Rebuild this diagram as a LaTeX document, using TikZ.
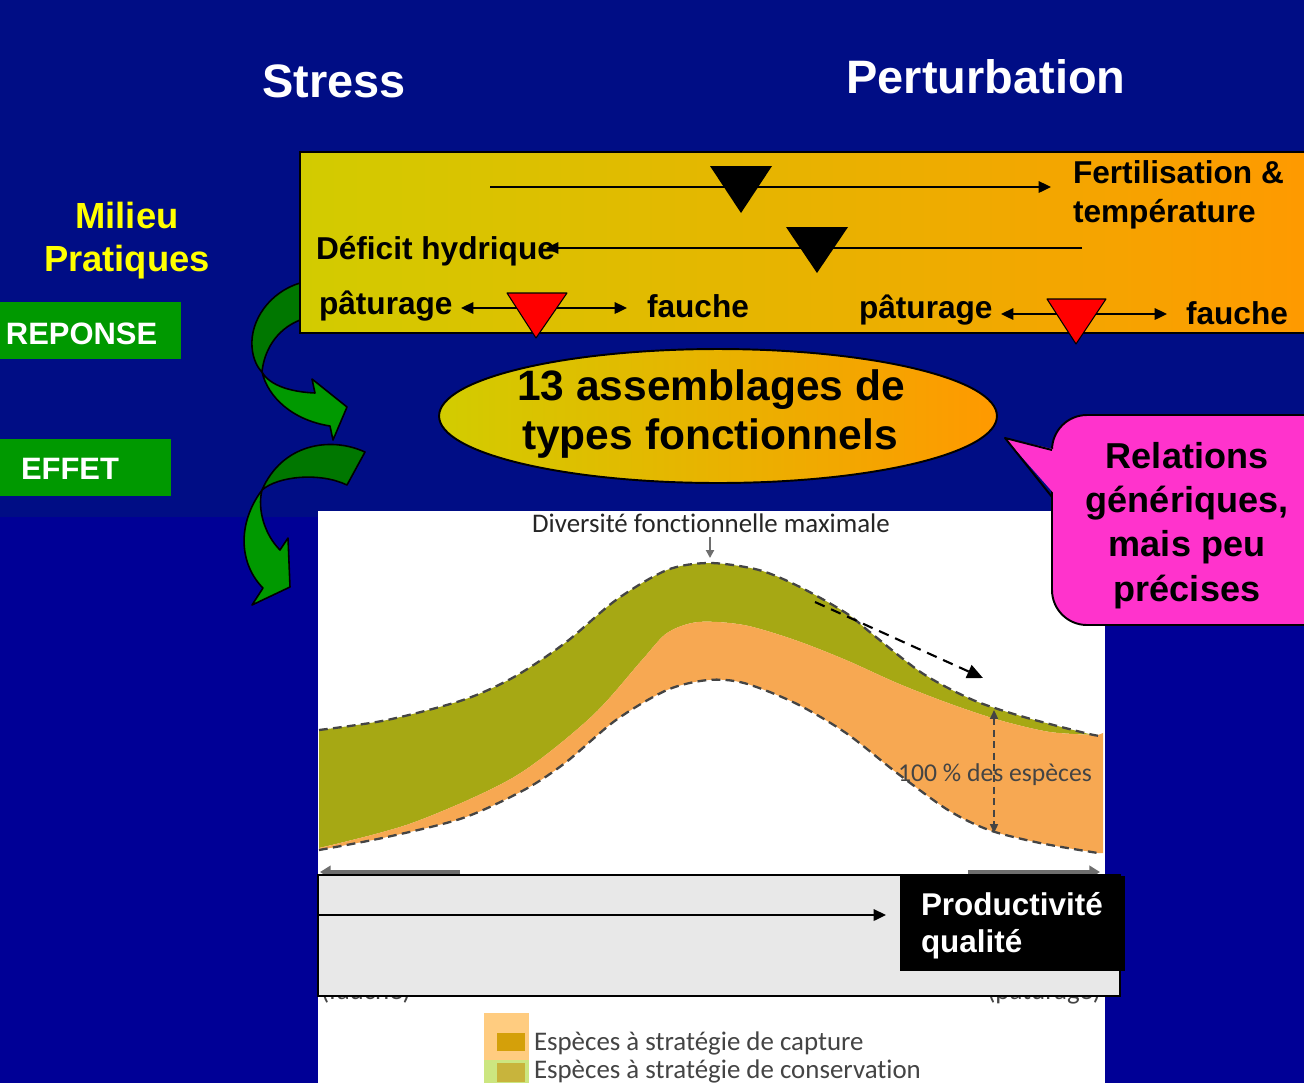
\documentclass[tikz,border=0pt]{standalone}
\usepackage{fontspec}
\setmainfont{Liberation Sans}
\newfontfamily\calfont[Ligatures={NoCommon},RawFeature={-calt}]{Carlito}
\usetikzlibrary{arrows.meta,shapes.geometric}
\definecolor{navytop}{RGB}{0,13,133}
\definecolor{navybot}{RGB}{0,0,150}
\definecolor{barL}{RGB}{210,204,0}
\definecolor{barR}{RGB}{255,153,0}
\definecolor{gr}{RGB}{0,153,0}
\definecolor{grdark}{RGB}{0,119,0}
\definecolor{yel}{RGB}{255,255,0}
\definecolor{pinkc}{RGB}{255,51,204}
\definecolor{olivec}{RGB}{166,168,20}
\definecolor{orngc}{RGB}{247,168,82}
\definecolor{dgray}{RGB}{68,68,68}
\definecolor{mgray}{RGB}{110,110,110}
\definecolor{boxgray}{RGB}{232,232,232}
\definecolor{legor}{RGB}{255,204,128}
\definecolor{leggr}{RGB}{204,230,128}
\definecolor{legsq1}{RGB}{212,160,10}
\definecolor{legsq2}{RGB}{200,180,60}
\newcommand{\fsz}[1]{\fontsize{#1}{#1}\selectfont}
\begin{document}
\begin{tikzpicture}[x=0.02cm,y=-0.02cm,
  txt/.style={inner sep=0,outer sep=0},
  titletxt/.style={txt,text=white,font=\bfseries\fsz{26.7}},
  bartxt/.style={txt,text=black,font=\bfseries\fsz{18}},
  yeltxt/.style={txt,text=yel,font=\bfseries\fsz{20.7}},
  boxtxt/.style={txt,text=white,font=\bfseries\fsz{17.6}},
  elltxt/.style={txt,text=black,font=\bfseries\fsz{24.2}},
  calltxt/.style={txt,text=black,font=\bfseries\fsz{20.5}},
  prodtxt/.style={txt,text=white,font=\bfseries\fsz{17.9}},
  charttxt/.style={txt,text=dgray,font=\calfont\fsz{14.6}},
  legtxt/.style={txt,text=dgray,font=\calfont\fsz{15.3}},
  arr/.style={line width=1.1pt,-{Triangle[length=7pt,width=6.5pt]}},
  darr/.style={line width=1.1pt,{Triangle[length=7pt,width=6.5pt]}-{Triangle[length=7pt,width=6.5pt]}},
  garrow/.style={draw=black,line width=0.9pt,line join=round},
  dashcurve/.style={dgray,line width=1.3pt,dash pattern=on 5pt off 3pt}
]
\useasboundingbox (0,0) rectangle (1304,1083);
\clip (0,0) rectangle (1304,1083);
% background
\fill[navytop] (0,0) rectangle (1304,517);
\fill[navybot] (0,517) rectangle (1304,1083);

% titles
\node[titletxt,anchor=base] (stress) at (334,97) {Stress};
\node[titletxt,anchor=base] (pert) at (986,93) {Perturbation};

% left labels
\node[yeltxt,anchor=base] (milieu) at (127,228) {Milieu};
\node[yeltxt,anchor=base] (prat) at (127,271) {Pratiques};
\fill[gr] (0,302) rectangle (181,359);
\node[boxtxt,anchor=base west] (rep) at (6,344) {REPONSE};
\fill[gr] (0,439) rectangle (171,496);
\node[boxtxt,anchor=base west] (eff) at (21,479) {EFFET};

% curved green arrows
\path[garrow,fill=grdark] (312,283) -- (300,283) .. controls (270,292) and (250,320) .. (252,347)
  .. controls (253,360) and (258,368) .. (262,372)
  .. controls (264,352) and (275,330) .. (300,320) -- (312,320) -- cycle;
\path[garrow,fill=gr] (262,372) .. controls (268,397) and (292,420) .. (330,426) -- (333,440) -- (347,407) -- (312,379) -- (315,393)
  .. controls (292,392) and (270,386) .. (262,372) -- cycle;
\path[garrow,fill=grdark] (365,452) .. controls (330,436) and (282,444) .. (262,490)
  .. controls (278,476) and (320,472) .. (347,485) -- cycle;
\path[garrow,fill=gr] (262,490) .. controls (236,525) and (240,565) .. (263,588) -- (252,605) -- (290,587) -- (288,538) -- (280,550)
  .. controls (265,535) and (257,510) .. (262,490) -- cycle;

% top bar
\shade[left color=barL,right color=barR] (300,152) rectangle (1320,333);
\draw[line width=1.1pt] (1320,152) -- (300,152) -- (300,333) -- (1320,333);
\node[bartxt,anchor=base west] (fert) at (1073,183) {Fertilisation \&};
\node[bartxt,anchor=base west] (temp) at (1073,222) {température};
\node[bartxt,anchor=base west] (defi) at (316,259) {Déficit hydrique};
\node[bartxt,anchor=base west] (pat1) at (319,314) {pâturage};
\node[bartxt,anchor=base west] (fau1) at (647,317) {fauche};
\node[bartxt,anchor=base west] (pat2) at (859,318) {pâturage};
\node[bartxt,anchor=base west] (fau2) at (1186,324) {fauche};
\coordinate (l1a) at (490,187); \coordinate (l1b) at (1051,187);
\coordinate (l2a) at (546,248); \coordinate (l2b) at (1082,248);
\coordinate (l3a) at (461,308); \coordinate (l3b) at (627,308);
\coordinate (l4a) at (1001,314); \coordinate (l4b) at (1167,314);
\draw[arr] (l1a) -- (l1b);
\draw[arr] (l2b) -- (l2a);
\draw[darr] (l3a) -- (l3b);
\draw[darr] (l4a) -- (l4b);
\fill[black] (710,166) -- (772,166) -- (741,213) -- cycle;
\fill[black] (786,227) -- (848,227) -- (817,273) -- cycle;
\draw[fill=red,line width=0.6pt,line join=round] (507,293) -- (567,293) -- (536,338) -- cycle;
\draw[fill=red,line width=0.6pt,line join=round] (1047,299) -- (1106,299) -- (1076,344) -- cycle;

% chart
\fill[white] (318,511) rectangle (1105,1083);
\fill[olivec] plot[smooth] coordinates {(319,730) (387,720) (463,700) (514,677) (565,643) (616,600) (667,570) (710,563) (759,570) (800,587) (846,613) (871,633) (922,673) (973,700) (1024,717) (1085,733) (1100,736)}
  -- plot[smooth] coordinates {(1098,735) (1050,732) (999,720) (948,703) (897,683) (846,660) (795,640) (744,625) (698,622) (667,633) (642,660) (591,717) (514,777) (412,823) (319,848)} -- cycle;
\fill[orngc] plot[smooth] coordinates {(319,848) (412,823) (514,777) (591,717) (642,660) (667,633) (698,622) (744,625) (795,640) (846,660) (897,683) (948,703) (999,720) (1050,732) (1098,735)}
  -- (1103,733) -- (1103,853)
  -- plot[smooth] coordinates {(1098,853) (1040,843) (989,830) (948,810) (897,773) (846,733) (795,703) (744,683) (708,680) (667,690) (616,720) (565,763) (524,790) (463,818) (387,837) (319,850)} -- cycle;
\draw[dashcurve] plot[smooth] coordinates {(319,730) (387,720) (463,700) (514,677) (565,643) (616,600) (667,570) (710,563) (759,570) (800,587) (846,613) (871,633) (922,673) (973,700) (1024,717) (1085,733) (1100,736)};
\draw[dashcurve] plot[smooth] coordinates {(319,850) (387,837) (463,818) (524,790) (565,763) (616,720) (667,690) (708,680) (744,683) (795,703) (846,733) (897,773) (948,810) (989,830) (1040,843) (1098,853)};
\node[txt,text=black!85,font=\calfont\fsz{15.3},anchor=base] (div) at (711,532) {Diversité fonctionnelle maximale};
\coordinate (dv1) at (710,537); \coordinate (dv2) at (710,558);
\draw[mgray,line width=1.3pt,-{Triangle[length=4.5pt,width=4.5pt]}] (dv1) -- (dv2);
\coordinate (da1) at (815,602); \coordinate (da2) at (983,678);
\draw[line width=1.2pt,dash pattern=on 6pt off 4pt,-{Triangle[length=9pt,width=8pt]}] (da1) -- (da2);
\coordinate (va1) at (994,710); \coordinate (va2) at (994,833);
\draw[dgray,line width=1pt,dash pattern=on 4pt off 2.5pt,{Triangle[length=5pt,width=4.5pt]}-{Triangle[length=5pt,width=4.5pt]}] (va1) -- (va2);
\node[charttxt,anchor=base] (cent) at (995,781) {100 \% des espèces};
% partly hidden axis arrows and labels
\coordinate (ga1) at (460,872); \coordinate (ga2) at (320,872);
\coordinate (gb1) at (968,872); \coordinate (gb2) at (1100,872);
\draw[mgray,line width=2.3pt,-{Triangle[length=6pt,width=7pt]}] (ga1) -- (ga2);
\draw[mgray,line width=2.3pt,-{Triangle[length=6pt,width=7pt]}] (gb1) -- (gb2);
\node[legtxt,anchor=base west] (fauL) at (321,999) {(fauche)};
\node[legtxt,anchor=base east] (patR) at (1101,999) {(pâturage)};
% grey box
\draw[fill=boxgray,line width=1.1pt] (318,875) rectangle (1120,996);
\coordinate (pa1) at (318,915); \coordinate (pa2) at (886,915);
\draw[arr] (pa1) -- (pa2);
\fill[black] (900,876) rectangle (1125,971);
\node[prodtxt,anchor=base west] (prod) at (921,915) {Productivité};
\node[prodtxt,anchor=base west] (qual) at (921,952) {qualité};
% legend
\fill[legor] (484,1013) rectangle (529,1060);
\fill[leggr] (484,1060) rectangle (529,1083);
\fill[legsq1] (497,1033) rectangle (525,1051);
\fill[legsq2] (497,1063) rectangle (525,1082);
\node[legtxt,anchor=base west] (leg1) at (534,1050) {Espèces à stratégie de capture};
\node[legtxt,anchor=base west] (leg2) at (534,1078) {Espèces à stratégie de conservation};

% ellipse
\node[ellipse,draw=black,line width=1.1pt,left color=barL,right color=barR,minimum width=11.16cm,minimum height=2.68cm,inner sep=0] (ell) at (718,416) {};
\node[elltxt,anchor=base] (e1) at (711,400) {13 assemblages de};
\node[elltxt,anchor=base] (e2) at (710,449) {types fonctionnels};

% callout
\draw[fill=pinkc,line width=1.1pt,rounded corners=0.7cm] (1052,415) rectangle (1360,625);
\coordinate (tip) at (1005,438);
\coordinate (cj1) at (1052,450); \coordinate (cj2) at (1052,497);
\fill[pinkc] (tip) -- (1057,450) -- (1057,497) -- cycle;
\draw[line width=1.1pt,line join=round] (cj1) -- (tip) -- (cj2);
\node[calltxt,anchor=base] (r1) at (1187,468) {Relations};
\node[calltxt,anchor=base] (r2) at (1187,512) {génériques,};
\node[calltxt,anchor=base] (r3) at (1187,556) {mais peu};
\node[calltxt,anchor=base] (r4) at (1187,601) {précises};
\end{tikzpicture}
\end{document}
